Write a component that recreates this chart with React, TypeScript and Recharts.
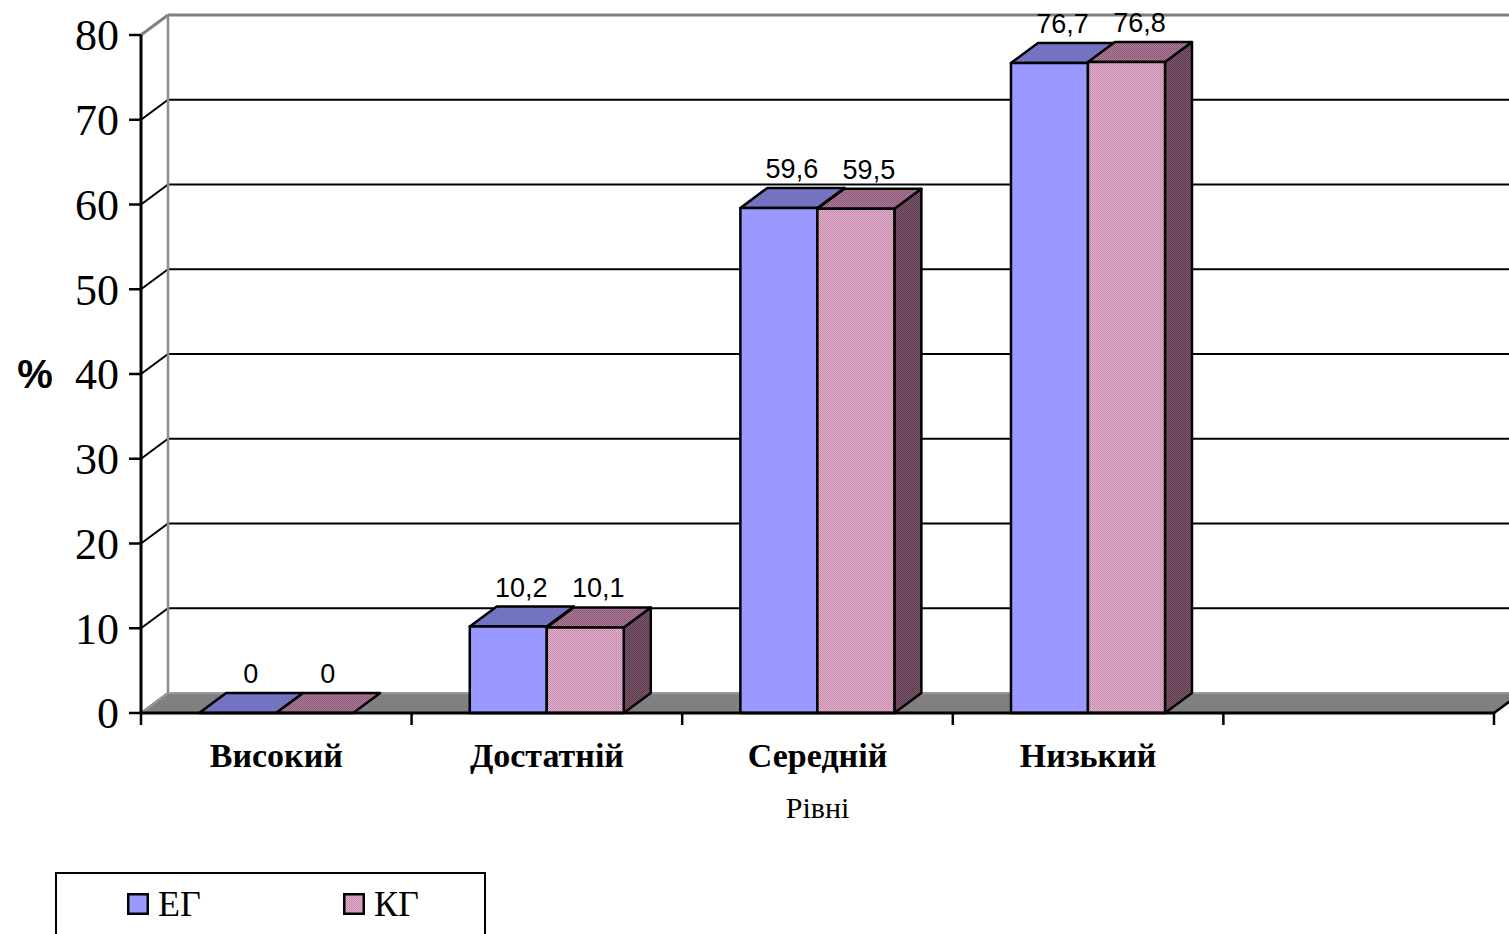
import React from 'react'
import { BarChart, Bar, XAxis, YAxis, CartesianGrid, Legend, LabelList } from 'recharts'

const levels = ['Високий', 'Достатній', 'Середній', 'Низький', '']
const egValues = [0, 10.2, 59.6, 76.7, null]
const kgValues = [0, 10.1, 59.5, 76.8, null]
const yTicks = [0, 10, 20, 30, 40, 50, 60, 70, 80]
const seriesNames = ['ЕГ', 'КГ']

const data = levels.map((level, i) => ({ level, eg: egValues[i], kg: kgValues[i] }))

// depth of the fake 3D
const DX = 27
const DY = -20
const SERIF = '"Liberation Serif", "Times New Roman", serif'
const SANS = '"Liberation Sans", Arial, sans-serif'

const EG_FACES = { front: '#9999FF', top: '#7373C1', side: '#5C5C9E' }
const KG_FACES = { front: 'url(#kgFront)', top: 'url(#kgTop)', side: 'url(#kgSide)' }

function Box(props: any) {
  const { x, y, width, height, faces, value } = props
  if (value == null || x == null) return null
  const h = Math.max(0, height || 0)
  const top = `${x},${y} ${x + width},${y} ${x + width + DX},${y + DY} ${x + DX},${y + DY}`
  const side = `${x + width},${y} ${x + width + DX},${y + DY} ${x + width + DX},${y + h + DY} ${x + width},${y + h}`
  return (
    <g stroke="#000" strokeWidth={2.5} strokeLinejoin="round">
      {h > 0 && <polygon points={side} fill={faces.side} />}
      <polygon points={top} fill={faces.top} />
      {h > 0 && <rect x={x} y={y} width={width} height={h} fill={faces.front} />}
    </g>
  )
}

function ValueLabel(props: any) {
  const { x, y, width, value } = props
  if (value == null) return null
  return (
    <text
      x={x + width / 2 + 13}
      y={y + DY - 10}
      textAnchor="middle"
      fontFamily={SANS}
      fontSize={27}
      fill="#000"
    >
      {String(value).replace('.', ',')}
    </text>
  )
}

function YTick(props: any) {
  const { x, y, payload } = props
  return (
    <text x={x} y={y} dy="0.35em" textAnchor="end" fontFamily={SERIF} fontSize={44} fill="#000">
      {payload.value}
    </text>
  )
}

function XTick(props: any) {
  const { x, y, payload, index, visibleTicksCount } = props
  const half = payload.offset || 135.3
  const axisY = y - 12
  const left = payload.coordinate - half
  return (
    <g>
      <line x1={left} y1={axisY} x2={left} y2={axisY + 12} stroke="#000" strokeWidth={2.5} />
      {index === visibleTicksCount - 1 && (
        <line x1={left + 2 * half} y1={axisY} x2={left + 2 * half} y2={axisY + 12} stroke="#000" strokeWidth={2.5} />
      )}
      <text x={x} y={axisY + 54} textAnchor="middle" fontFamily={SERIF} fontWeight="bold" fontSize={34} fill="#000">
        {payload.value}
      </text>
    </g>
  )
}

// back wall lines plus the small diagonals across the left wall
function GridRow(props: any) {
  const { x1, y1, y, index } = props
  const isTop = y != null ? Math.abs(y1 - y) < 1 : index === 0
  const color = isTop ? '#808080' : '#000'
  return (
    <g key={props.key} stroke={color} strokeWidth={isTop ? 3 : 2}>
      <line x1={x1} y1={y1} x2={x1 + DX} y2={y1 + DY} />
      <line x1={x1 + DX} y1={y1 + DY} x2={1520} y2={y1 + DY} />
    </g>
  )
}

// floor and the back wall edge
function WallFloor(props: any) {
  const { x1, y1, y2, width } = props
  const w = width || 1353
  const floor = `${x1},${y2} ${x1 + w},${y2} ${x1 + w + DX},${y2 + DY} ${x1 + DX},${y2 + DY}`
  return (
    <g key={props.key}>
      <line x1={x1 + DX} y1={y1 + DY} x2={x1 + DX} y2={y2 + DY} stroke="#8c8c8c" strokeWidth={2.5} />
      <polygon points={floor} fill="#808080" stroke="none" />
      <line x1={x1 + DX} y1={y2 + DY} x2={x1 + w + DX} y2={y2 + DY} stroke="#9a9a9a" strokeWidth={2} />
      <line x1={x1} y1={y2} x2={x1 + DX} y2={y2 + DY} stroke="#9a9a9a" strokeWidth={2} />
      <line x1={x1 + w} y1={y2} x2={x1 + w + DX} y2={y2 + DY} stroke="#000" strokeWidth={2.5} />
    </g>
  )
}

function LegendBox() {
  const swatches = [EG_FACES.front, KG_FACES.front]
  const lefts = [70, 286]
  return (
    <div
      style={{
        position: 'relative',
        width: 431,
        height: 72,
        border: '2px solid #000',
        boxSizing: 'border-box',
        background: '#fff',
      }}
    >
      {seriesNames.map((name, i) => (
        <div key={name} style={{ position: 'absolute', left: lefts[i], top: 12, display: 'flex', alignItems: 'center' }}>
          <svg width={22} height={22} style={{ display: 'block' }}>
            <rect x={1.25} y={1.25} width={19.5} height={19.5} fill={swatches[i]} stroke="#000" strokeWidth={2.5} />
          </svg>
          <span style={{ fontFamily: SERIF, fontSize: 36, marginLeft: 9, lineHeight: '36px' }}>{name}</span>
        </div>
      ))}
    </div>
  )
}

export default function App() {
  return (
    <div style={{ position: 'absolute', left: 0, top: 0, width: 1509, height: 934, overflow: 'hidden', background: '#fff' }}>
      <svg width={0} height={0} style={{ position: 'absolute' }}>
        <defs>
          <pattern id="kgFront" width={2} height={2} patternUnits="userSpaceOnUse">
            <rect width={2} height={2} fill="#E6B2D2" />
            <rect width={1} height={1} fill="#BD84A6" />
            <rect x={1} y={1} width={1} height={1} fill="#C98FB1" />
          </pattern>
          <pattern id="kgTop" width={2} height={2} patternUnits="userSpaceOnUse">
            <rect width={2} height={2} fill="#B07C9C" />
            <rect width={1} height={1} fill="#855270" />
            <rect x={1} y={1} width={1} height={1} fill="#8E5C7A" />
          </pattern>
          <pattern id="kgSide" width={2} height={2} patternUnits="userSpaceOnUse">
            <rect width={2} height={2} fill="#7E5A70" />
            <rect width={1} height={1} fill="#563646" />
            <rect x={1} y={1} width={1} height={1} fill="#5E3C50" />
          </pattern>
        </defs>
      </svg>
      <BarChart
        width={1509}
        height={934}
        data={data}
        margin={{ top: 35, right: 15, left: 0, bottom: 0 }}
        barCategoryGap="21.5%"
        barGap={0}
      >
        <CartesianGrid
          horizontal={(p: any) => <GridRow {...p} />}
          vertical={(p: any) => <WallFloor {...p} />}
          verticalCoordinatesGenerator={({ offset }: any) => [offset.left]}
        />
        <YAxis
          width={141}
          domain={[0, 80]}
          ticks={yTicks}
          interval={0}
          tickSize={12}
          tickMargin={10}
          tick={<YTick />}
          axisLine={{ stroke: '#000', strokeWidth: 3 }}
          tickLine={{ stroke: '#000', strokeWidth: 2.5 }}
          label={{
            content: (p: any) => {
              const vb = p.viewBox || { x: 0, y: 35, width: 141, height: 678 }
              return (
                <text x={35} y={vb.y + vb.height / 2} dy="0.35em" textAnchor="middle" fontFamily={SANS} fontWeight="bold" fontSize={40}>
                  %
                </text>
              )
            },
          }}
        />
        <XAxis
          dataKey="level"
          height={221}
          interval={0}
          tickSize={12}
          tickMargin={0}
          tickLine={false}
          tick={<XTick />}
          axisLine={{ stroke: '#000', strokeWidth: 3 }}
          label={{
            content: (p: any) => {
              const vb = p.viewBox || { x: 141, y: 713, width: 1353 }
              return (
                <text x={vb.x + vb.width / 2} y={vb.y + 105} textAnchor="middle" fontFamily={SERIF} fontSize={30}>
                  Рівні
                </text>
              )
            },
          }}
        />
        <Legend
          layout="vertical"
          align="center"
          verticalAlign="middle"
          wrapperStyle={{ position: 'absolute', left: 55, top: 872, width: 431 }}
          content={() => <LegendBox />}
        />
        <Bar dataKey="eg" name={seriesNames[0]} fill="#9999FF" isAnimationActive={false} shape={(p: any) => <Box {...p} faces={EG_FACES} />}>
          <LabelList dataKey="eg" content={<ValueLabel />} />
        </Bar>
        <Bar dataKey="kg" name={seriesNames[1]} fill="#D39DBE" isAnimationActive={false} shape={(p: any) => <Box {...p} faces={KG_FACES} />}>
          <LabelList dataKey="kg" content={<ValueLabel />} />
        </Bar>
      </BarChart>
    </div>
  )
}
